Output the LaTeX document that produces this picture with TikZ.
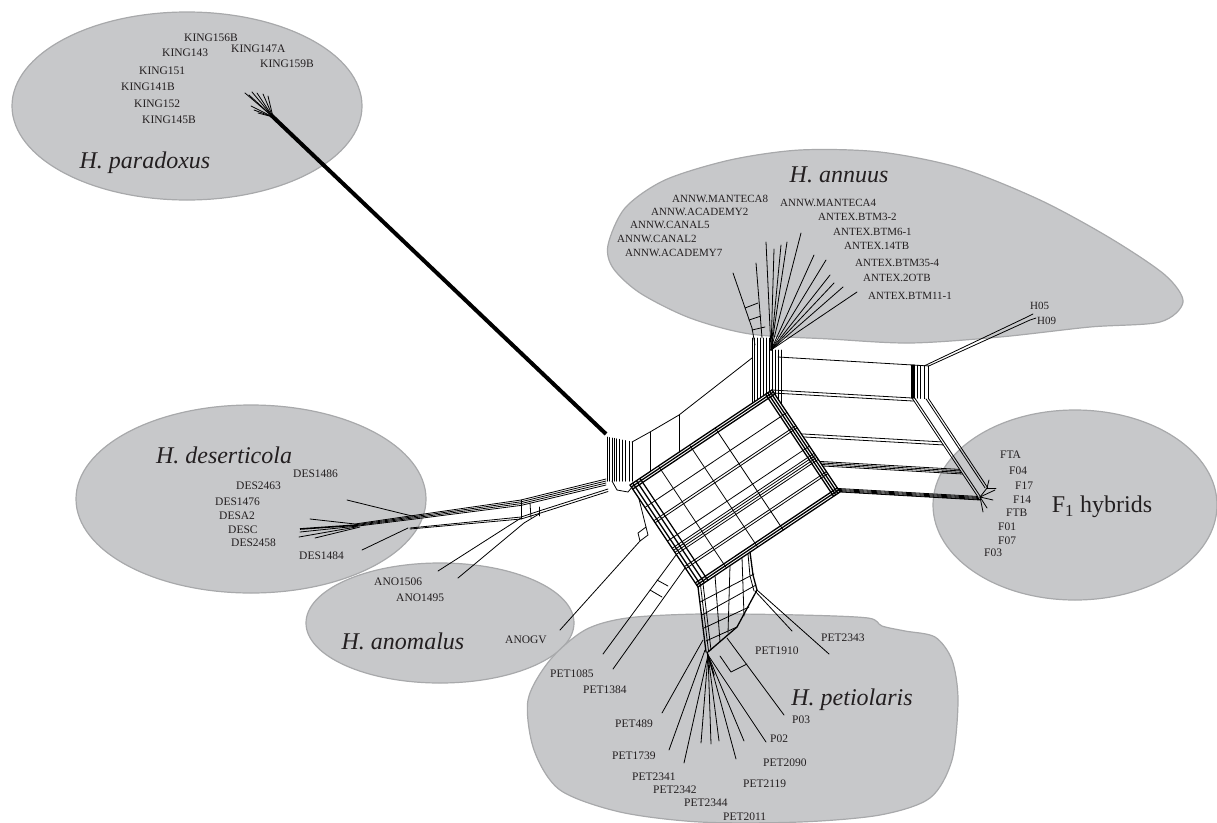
\documentclass[tikz,border=0pt]{standalone}
\usepackage{fontspec}
\setmainfont{Liberation Serif}
\usetikzlibrary{calc}
\definecolor{blobfill}{RGB}{199,200,202}
\definecolor{blobline}{RGB}{168,169,171}
\definecolor{txt}{RGB}{35,31,32}
\begin{document}
\begin{tikzpicture}[x=1pt,y=-1pt,
  blob/.style={fill=blobfill,draw=blobline,line width=1.2pt},
  net/.style={line width=0.8pt,line join=round,line cap=round},
  tnet/.style={line width=1.3pt,line join=round,line cap=round},
  lab/.style={anchor=west,inner sep=0pt,text=txt,font=\fontsize{11.5}{12}\selectfont},
  alab/.style={lab,font=\fontsize{11}{12}\selectfont},
  spec/.style={inner sep=0pt,text=txt,font=\fontsize{24}{26}\selectfont\itshape}]
\useasboundingbox (0,0) rectangle (1217,822);
% ---------- group blobs
\draw[blob] (187,106) ellipse [x radius=175,y radius=94];
\draw[blob] plot[smooth cycle] coordinates {(608,245) (625,208) (665,180) (730,160) (800,150) (880,152) (960,168) (1040,200) (1110,238) (1165,275) (1183,302) (1160,322) (1090,327) (1000,337) (910,343) (830,339) (750,334) (690,318) (640,293) (613,268)};
\draw[blob] (251,499) ellipse [x radius=175,y radius=94];
\draw[blob] (440,623) ellipse [x radius=134,y radius=60];
\draw[blob] (1075,505) ellipse [x radius=142,y radius=95];
\draw[blob] plot[smooth cycle] coordinates {(528,700) (534,750) (560,790) (620,812) (700,822) (800,822) (880,815) (930,798) (952,760) (958,700) (952,660) (935,637) (905,631) (882,626) (868,618) (800,615) (700,614) (627,618) (585,630) (550,660)};
% ---------- key points of the network
\coordinate (L) at (630,485);
\coordinate (T) at (772,390);
\coordinate (R) at (840,492);
\coordinate (B) at (698,587);
% ---------- central parallelogram
\foreach \b in {0,0.02,0.04,0.96,0.98,1} \draw[tnet] ($(L)+\b*(68,102)$) -- ++(142,-95);
\foreach \b in {0.22,0.35,0.37,0.55,0.62,0.64,0.66,0.68,0.8,0.82} \draw[net] ($(L)+\b*(68,102)$) -- ++(142,-95);
\foreach \a in {0,0.02,0.045,0.07,0.955,0.97,0.985,1} \draw[tnet] ($(L)+\a*(142,-95)$) -- ++(68,102);
\foreach \a in {0.2,0.42,0.6} \draw[net] ($(L)+\a*(142,-95)$) -- ++(68,102);
% ---------- right (F1) region
\foreach \b in {0,0.03,0.43,0.46,0.70,0.715,0.73,0.745,0.965,0.975,0.985,0.995,1} \draw[net] ($(T)+\b*(68,102)$) -- ++(140,8);
\foreach \c in {1,1.02} \draw[net] ($(T)+\c*(140,8)$) -- ++(66,99);
\foreach \c in {1.1,1.12} \draw[net] ($(T)+\c*(140,8)$) -- ++(59,89);
\draw[net] ($(T)+(6,-33)$) -- ($(T)+1.12*(140,8)+(0,-33)$);
\foreach \c in {1,1.01,1.02} \draw[tnet] ($(T)+\c*(140,8)+(0,-33)$) -- ++(0,33);
\foreach \c in {1.035,1.06,1.09,1.12} \draw[net] ($(T)+\c*(140,8)+(0,-33)$) -- ++(0,33);
\draw[net] ($(T)+1.09*(140,8)+(0,-33)$) -- (1027,317) -- (1033,314);
\draw[net] ($(T)+1.12*(140,8)+(0,-33)$) -- (1030,320) -- (1036,318);
\coordinate (fa) at (980,497);
\coordinate (fb) at (987,488);
\foreach \p in {(995,490),(993,500),(987,508),(983,512)} \draw[net] (fa) -- \p;
\foreach \p in {(989,480),(996,488)} \draw[net] (fb) -- \p;
\draw[net] (fb) -- (fa);
% ---------- left region (paradoxus stem)
\coordinate (pr) at (273,117);
\foreach \p in {(245,93),(249,95),(252,92),(257,93),(263,94),(268,96),(251,106),(254,110),(258,113)} \draw[net] (pr) -- \p;
\draw[line width=4pt] (271,115) -- (606,434);
\foreach \x in {607,609.5,612,614,616.5,619,622,625.5,629,632} \draw[net,line width=1pt] (\x,{437+(\x-607)*0.2}) -- (\x,481);
\draw[net] (632,442) -- (650,432) -- (679,415) -- (752,358);
\draw[net] (650,432) -- (650,471.6);
\draw[net] (679,415) -- (679,452);
\draw[net] (612,481) -- (617,490) -- (628,492) -- (633,486);
% ---------- annuus stem
\foreach \x in {752,754.5,757,760,763,766,769,772} \draw[net] (\x,338) -- (\x,{485-95*(\x-630)/142});
\foreach \x in {775,778,781} \draw[net] (\x,350) -- (\x,{390+102*(\x-772)/68});
\coordinate (ar) at (771,350);
\foreach \p in {(766,242),(774,249),(781,245),(787,242),(801,233),(814,255),(826,260),(830,275),(834,283),(843,287),(857,292)} \draw[net] (ar) -- \p;
\draw[net] (756,263) -- (762,338);
\draw[net] (733,273) -- (752,328) -- (755,345);
\draw[net] (745,308) -- (758,303);
\draw[net] (749,320) -- (761,316);
\draw[net] (752,330) -- (765,327);
% ---------- deserticola and anomalus branch
\foreach \i in {0,1,2,3} \draw[net] (606,{479+2*\i}) -- (521,{500+1.8*\i}) -- (410,{516+1.2*\i}) -- (355,{524+0.8*\i});
\foreach \i in {0,1} \draw[net] (608,{489+2.5*\i}) -- (539,{511+2.5*\i}) -- (521,{517+2*\i}) -- (410,{528+1*\i});
\draw[net] (521,500) -- (521,519);
\draw[net] (530,503) -- (531,518);
\draw[net] (539,507) -- (539,516);
\draw[net] (412,516) -- (347,500);
\draw[net] (355,524) -- (310,519);
\draw[line width=1.6pt] (358,525) -- (300,529);
\draw[net] (358,526) -- (300,532);
\draw[net] (356,527) -- (299,537);
\draw[net] (360,527) -- (315,538);
\draw[net] (408,528) -- (362,550);
\draw[net] (438,571) -- (510,525) -- (521,518);
\draw[net] (458,578) -- (524,523) -- (539,514);
\draw[net] (560,630) -- (640,541);
\draw[net] (640,541) -- (648,535) -- (646,527) -- (638,533) -- cycle;
\draw[net] (646,527) -- (639,499);
% ---------- petiolaris stem
\draw[tnet] (698,587) -- (706,652);
\draw[net] (700.5,585.3) -- (708.5,651);
\draw[net] (703,583.6) -- (711,650);
\draw[tnet] (750,552) -- (753,575) -- (757,590) -- (737,627) -- (708,652);
\draw[net] (748,554) -- (750,576) -- (754,591);
\draw[net] (700,602) -- (754,574);
\draw[net] (702,615) -- (756,585);
\draw[net] (704,628) -- (749,607);
\draw[net] (706,641) -- (737,627);
\draw[net] (715,575.6) -- (720,641.7);
\draw[net] (730,565.5) -- (728,633);
\draw[net] (742,557.4) -- (744,616);
\draw[net] (755,591) -- (792,631);
\draw[net] (757,590) -- (829,654);
\draw[net] (603,654) -- (676,555);
\draw[net] (613,669) -- (685,568);
\draw[net] (650,590) -- (662,597);
\draw[net] (657,580) -- (668,586);
\coordinate (pp) at (708,655);
\draw[net] (703,640) -- (662,713);
\draw[net] (705,650) -- (669,750);
\foreach \p in {(684,763),(701,743),(711,744),(719,741),(736,759),(744,741),(766,742)} \draw[net] (pp) -- \p;
\draw[tnet] (707,652) -- (714,675);
\draw[net] (727,638) -- (784,715);
\draw[net] (720,656) -- (731,672) -- (747,664);
% ---------- species names
\node[spec] (nPar) at (145,163) {H. paradoxus};
\node[spec] (nAnn) at (839,175) {H. annuus};
\node[spec] (nDes) at (224,455) {H. deserticola};
\node[spec] (nAno) at (403,641) {H. anomalus};
\node[spec] (nPet) at (852,700) {H. petiolaris};
\node[spec,font=\fontsize{24}{26}\selectfont] (nF1) at (1102,507) {F\textsubscript{1} hybrids};
% ---------- paradoxus labels
\node[lab] (k1) at (184,38) {KING156B};
\node[lab] (k2) at (162,53) {KING143};
\node[lab] (k3) at (231,49) {KING147A};
\node[lab] (k4) at (260,64) {KING159B};
\node[lab] (k5) at (139,71) {KING151};
\node[lab] (k6) at (121,87) {KING141B};
\node[lab] (k7) at (134,104) {KING152};
\node[lab] (k8) at (142,120) {KING145B};
% ---------- annuus labels
\node[alab] (a1) at (672,199) {ANNW.MANTECA8};
\node[alab] (a2) at (780,203) {ANNW.MANTECA4};
\node[alab] (a3) at (651,212) {ANNW.ACADEMY2};
\node[alab] (a4) at (818,217) {ANTEX.BTM3-2};
\node[alab] (a5) at (630,225) {ANNW.CANAL5};
\node[alab] (a6) at (617,239) {ANNW.CANAL2};
\node[alab] (a7) at (833,232) {ANTEX.BTM6-1};
\node[alab] (a8) at (844,246) {ANTEX.14TB};
\node[alab] (a9) at (625,253) {ANNW.ACADEMY7};
\node[alab] (a10) at (855,263) {ANTEX.BTM35-4};
\node[alab] (a11) at (863,278) {ANTEX.2OTB};
\node[alab] (a12) at (868,296) {ANTEX.BTM11-1};
\node[alab] (h5) at (1030,306) {H05};
\node[alab] (h9) at (1037,321) {H09};
% ---------- deserticola / anomalus labels
\node[lab] (d1) at (293,474) {DES1486};
\node[lab] (d2) at (236,486) {DES2463};
\node[lab] (d3) at (215,502) {DES1476};
\node[lab] (d4) at (219,516) {DESA2};
\node[lab] (d5) at (228,530) {DESC};
\node[lab] (d6) at (231,543) {DES2458};
\node[lab] (d7) at (299,556) {DES1484};
\node[lab] (o1) at (374,582) {ANO1506};
\node[lab] (o2) at (396,598) {ANO1495};
\node[lab] (o3) at (505,640) {ANOGV};
% ---------- petiolaris labels
\node[lab] (p1) at (550,674) {PET1085};
\node[lab] (p2) at (583,690) {PET1384};
\node[lab] (p3) at (615,724) {PET489};
\node[lab] (p4) at (612,756) {PET1739};
\node[lab] (p5) at (632,777) {PET2341};
\node[lab] (p6) at (653,790) {PET2342};
\node[lab] (p7) at (684,803) {PET2344};
\node[lab] (p8) at (723,817) {PET2011};
\node[lab] (p9) at (743,784) {PET2119};
\node[lab] (p10) at (763,763) {PET2090};
\node[lab] (p11) at (770,739) {P02};
\node[lab] (p12) at (792,720) {P03};
\node[lab] (p13) at (755,651) {PET1910};
\node[lab] (p14) at (821,638) {PET2343};
% ---------- F1 labels
\node[lab] (f1) at (1000,455) {FTA};
\node[lab] (f2) at (1009,471) {F04};
\node[lab] (f3) at (1015,486) {F17};
\node[lab] (f4) at (1013,500) {F14};
\node[lab] (f5) at (1006,513) {FTB};
\node[lab] (f6) at (998,527) {F01};
\node[lab] (f7) at (998,541) {F07};
\node[lab] (f8) at (984,553) {F03};
\end{tikzpicture}
\end{document}
